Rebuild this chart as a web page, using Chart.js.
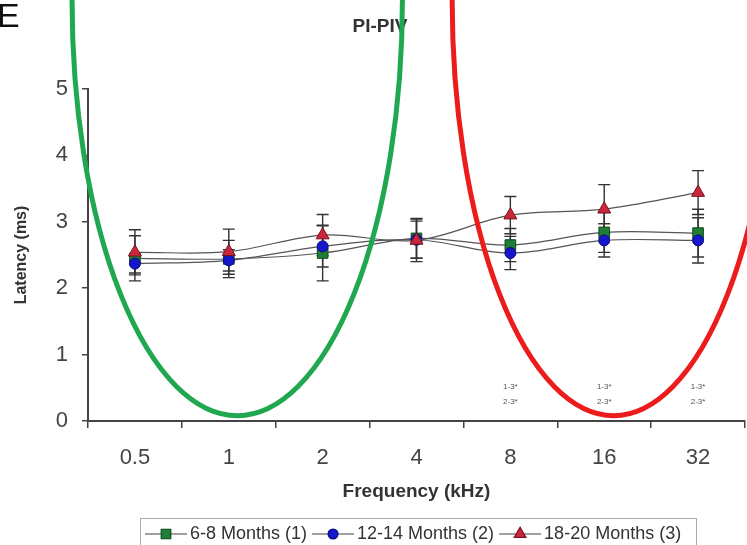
<!DOCTYPE html>
<html><head><meta charset="utf-8">
<script src="https://cdn.jsdelivr.net/npm/chart.js@4/dist/chart.umd.min.js"></script>
<style>html,body{margin:0;padding:0;background:#fff;overflow:hidden}#wrap{width:747px;height:545px;position:relative}</style>
</head><body><div id="wrap"><canvas id="c" width="747" height="545"></canvas></div>
<script>
// ---- data ----
const frequencies = ['0.5', '1', '2', '4', '8', '16', '32'];
const months6to8   = [2.45, 2.44, 2.53, 2.75, 2.65, 2.84, 2.83];
const months12to14 = [2.37, 2.42, 2.63, 2.73, 2.53, 2.72, 2.72];
const months18to20 = [2.54, 2.55, 2.80, 2.72, 3.10, 3.19, 3.44];
const err6to8   = [0.34, 0.28, 0.42, 0.30, 0.25, 0.30, 0.36];
const err12to14 = [0.14, 0.16, 0.31, 0.28, 0.25, 0.25, 0.34];
const err18to20 = [0.34, 0.34, 0.31, 0.32, 0.28, 0.37, 0.33];
const seriesNames = ['6-8 Months (1)', '12-14 Months (2)', '18-20 Months (3)'];
const significance = [null, null, null, null, ['1-3*', '2-3*'], ['1-3*', '2-3*'], ['1-3*', '2-3*']];
const yTicks = [0, 1, 2, 3, 4, 5];
const chartTitle = 'PI-PIV';
const panelLetter = 'E';

// hand-drawn highlight ellipses (in category-index / ms units)
const highlights = [
  {cx: 1.09, cy: 6.34, rx: 1.76, ry: 6.26, color: '#1fa84f'},
  {cx: 5.10, cy: 6.34, rx: 1.72, ry: 6.26, color: '#ec1c1c'}
];

const FONT = "'Liberation Sans', Arial, sans-serif";
const styles = [
  {fill: '#1f7d35', stroke: '#0d4a1c', point: 'rect', r: 7.5},
  {fill: '#1616cc', stroke: '#0a0a7a', point: 'circle', r: 5.5},
  {fill: '#c8283a', stroke: '#7a1020', point: 'triangle', r: 7.5}
];
const values = [months6to8, months12to14, months18to20];
const errs = [err6to8, err12to14, err18to20];

const errorBarPlugin = {
  id: 'errorBars',
  beforeDatasetsDraw(chart) {
    const ctx = chart.ctx, xs = chart.scales.x, ys = chart.scales.y;
    ctx.save();
    ctx.strokeStyle = '#333';
    ctx.lineWidth = 1.4;
    values.forEach((vals, si) => {
      vals.forEach((v, i) => {
        const x = xs.getPixelForValue(i);
        const yt = ys.getPixelForValue(v + errs[si][i]);
        const yb = ys.getPixelForValue(v - errs[si][i]);
        ctx.beginPath();
        ctx.moveTo(x, yt); ctx.lineTo(x, yb);
        ctx.moveTo(x - 6, yt); ctx.lineTo(x + 6, yt);
        ctx.moveTo(x - 6, yb); ctx.lineTo(x + 6, yb);
        ctx.stroke();
      });
    });
    ctx.restore();
  }
};

function drawMarker(ctx, st, x, y) {
  Chart.helpers.drawPoint(ctx, {pointStyle: st.point, radius: st.r, rotation: 0, borderWidth: 1}, x, y);
}

const overlayPlugin = {
  id: 'overlay',
  afterDraw(chart) {
    const ctx = chart.ctx, xs = chart.scales.x, ys = chart.scales.y;
    ctx.save();
    // significance labels
    ctx.fillStyle = '#555';
    ctx.font = '8px ' + FONT;
    ctx.textAlign = 'center';
    ctx.textBaseline = 'middle';
    significance.forEach((s, i) => {
      if (!s) return;
      const x = xs.getPixelForValue(i);
      ctx.fillText(s[0], x, ys.getPixelForValue(0.51));
      ctx.fillText(s[1], x, ys.getPixelForValue(0.29));
    });
    // title
    ctx.fillStyle = '#333';
    ctx.font = 'bold 19px ' + FONT;
    ctx.fillText(chartTitle, 380, 27);
    // panel letter
    ctx.fillStyle = '#111';
    ctx.font = '34px ' + FONT;
    ctx.textAlign = 'left';
    ctx.textBaseline = 'alphabetic';
    ctx.fillText(panelLetter, -3, 27);
    // legend
    ctx.strokeStyle = '#aaa';
    ctx.lineWidth = 1;
    ctx.strokeRect(140.5, 518.5, 556, 40);
    ctx.font = '18px ' + FONT;
    ctx.textBaseline = 'middle';
    let lx = 145;
    const ly = 534;
    seriesNames.forEach((name, si) => {
      const st = styles[si];
      ctx.strokeStyle = '#444';
      ctx.lineWidth = 1.2;
      ctx.beginPath(); ctx.moveTo(lx, ly); ctx.lineTo(lx + 42, ly); ctx.stroke();
      ctx.fillStyle = st.fill; ctx.strokeStyle = st.stroke;
      drawMarker(ctx, {point: st.point, r: st.r * 0.9}, lx + 21, ly);
      ctx.fillStyle = '#333';
      ctx.fillText(name, lx + 45, ly);
      lx += 45 + ctx.measureText(name).width + 5;
    });
    // highlight ellipses
    highlights.forEach(h => {
      const x = xs.getPixelForValue(h.cx), y = ys.getPixelForValue(h.cy);
      const rx = Math.abs(xs.getPixelForValue(h.cx + h.rx) - x);
      const ry = Math.abs(ys.getPixelForValue(h.cy - h.ry) - y);
      ctx.strokeStyle = h.color;
      ctx.lineWidth = 5;
      ctx.beginPath();
      ctx.ellipse(x, y, rx, ry, 0, 0, Math.PI * 2);
      ctx.stroke();
    });
    ctx.restore();
  }
};

new Chart(document.getElementById('c'), {
  type: 'line',
  data: {
    labels: frequencies,
    datasets: values.map((vals, si) => ({
      label: seriesNames[si],
      data: vals,
      order: 2 - si,
      borderColor: '#555',
      borderWidth: 1.2,
      tension: 0.35,
      pointStyle: styles[si].point,
      pointRadius: styles[si].r,
      pointBackgroundColor: styles[si].fill,
      pointBorderColor: styles[si].stroke,
      pointBorderWidth: 1,
      fill: false
    }))
  },
  options: {
    responsive: false,
    animation: false,
    devicePixelRatio: 1,
    layout: {autoPadding: false, padding: {top: 89, right: 2, bottom: 40, left: 0}},
    plugins: {legend: {display: false}, title: {display: false}, tooltip: {enabled: false}},
    scales: {
      x: {
        type: 'category',
        offset: true,
        grid: {display: true, drawOnChartArea: false, drawTicks: true, tickLength: 7, offset: true, color: '#444', lineWidth: 1.5},
        border: {display: true, color: '#444', width: 2},
        ticks: {font: {family: FONT, size: 22}, color: '#444', padding: 17, maxRotation: 0},
        title: {display: true, text: 'Frequency (kHz)', font: {family: FONT, size: 19, weight: 'bold'}, color: '#333', padding: {top: 0, bottom: 2}},
        afterFit(s) { s.height = 84; s.paddingLeft = 0; s.paddingRight = 0; }
      },
      y: {
        min: 0, max: 5,
        afterBuildTicks(s) { s.ticks = yTicks.map(v => ({value: v})); },
        grid: {display: true, drawOnChartArea: false, drawTicks: true, tickLength: 6, color: '#444', lineWidth: 1.5},
        border: {display: true, color: '#444', width: 2},
        ticks: {font: {family: FONT, size: 22}, color: '#444', padding: 14},
        title: {display: true, text: 'Latency (ms)', font: {family: FONT, size: 16, weight: 'bold'}, color: '#333', padding: {top: 12, bottom: 0}},
        afterFit(s) { s.width = 88; }
      }
    }
  },
  plugins: [errorBarPlugin, overlayPlugin]
});
</script></body></html>
